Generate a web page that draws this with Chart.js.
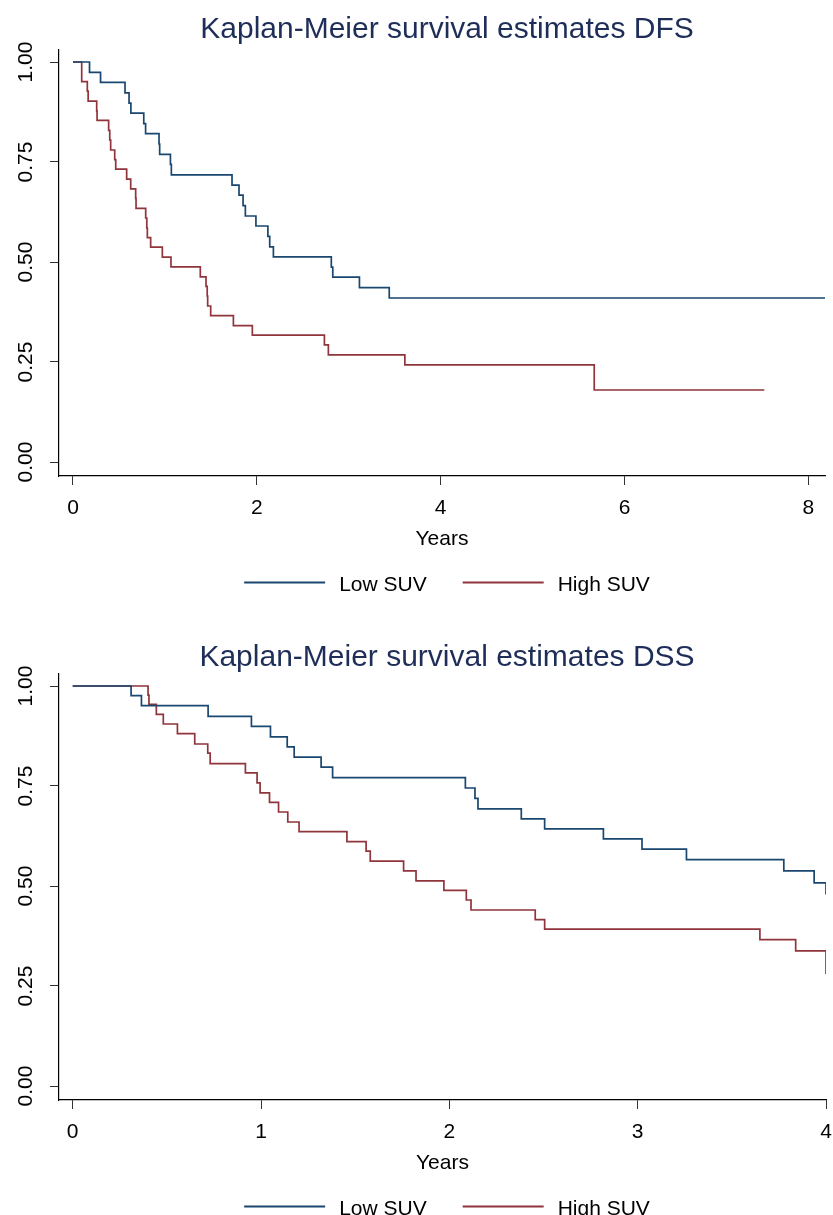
<!DOCTYPE html>
<html>
<head>
<meta charset="utf-8">
<script src="https://cdn.jsdelivr.net/npm/chart.js@4.4.1/dist/chart.umd.min.js"></script>
<style>
  html, body { margin: 0; padding: 0; background: #fff; overflow: hidden; }
  .panel { position: absolute; left: 0; width: 833px; height: 624px; }
</style>
</head>
<body>
<div class="panel" style="top:0"><canvas id="dfs" width="833" height="624"></canvas></div>
<div class="panel" style="top:624px"><canvas id="dss" width="833" height="624"></canvas></div>
<script>
// series labels
const seriesLabels = ['Low SUV', 'High SUV'];

// DFS, low SUV: event times (years) and survival
const dfsLowTime = [0, 0.18, 0.30, 0.566, 0.61, 0.63, 0.77, 0.79, 0.936, 0.943, 1.06, 1.07,
  1.73, 1.806, 1.85, 1.875, 1.99, 2.12, 2.14, 2.18, 2.81, 2.826, 3.116, 3.44, 8.19];
const dfsLowSurv = [1, 0.974, 0.949, 0.923, 0.897, 0.872, 0.846, 0.821, 0.795, 0.769, 0.744, 0.718,
  0.692, 0.667, 0.641, 0.615, 0.590, 0.564, 0.538, 0.513, 0.487, 0.462, 0.436, 0.41, 0.41];

// DFS, high SUV
const dfsHighTime = [0, 0.095, 0.156, 0.165, 0.258, 0.262, 0.388, 0.40, 0.41, 0.454, 0.465, 0.584,
  0.628, 0.682, 0.686, 0.791, 0.803, 0.809, 0.845, 0.972, 1.066, 1.385, 1.447, 1.46, 1.465, 1.498,
  1.745, 1.951, 2.735, 2.778, 3.61, 5.67, 7.52];
const dfsHighSurv = [1, 0.951, 0.927, 0.902, 0.878, 0.854, 0.829, 0.805, 0.780, 0.756, 0.732, 0.707,
  0.683, 0.659, 0.634, 0.610, 0.585, 0.561, 0.537, 0.512, 0.488, 0.463, 0.439, 0.415, 0.390, 0.366,
  0.341, 0.317, 0.293, 0.268, 0.243, 0.18, 0.18];

// DSS, low SUV
const dssLowTime = [0, 0.31, 0.365, 0.719, 0.949, 1.05, 1.139, 1.176, 1.319, 1.38, 2.085, 2.136,
  2.152, 2.382, 2.506, 2.818, 3.023, 3.259, 3.776, 3.937, 4.0];
const dssLowSurv = [1, 0.976, 0.951, 0.924, 0.899, 0.873, 0.848, 0.822, 0.797, 0.771, 0.745, 0.719,
  0.693, 0.668, 0.643, 0.618, 0.592, 0.566, 0.538, 0.508, 0.479];

// DSS, high SUV
const dssHighTime = [0, 0.40, 0.405, 0.444, 0.481, 0.556, 0.648, 0.717, 0.73, 0.917, 0.979, 0.995,
  1.045, 1.093, 1.142, 1.202, 1.456, 1.558, 1.58, 1.757, 1.823, 1.971, 2.09, 2.115, 2.456, 2.506,
  3.649, 3.839, 4.0];
const dssHighSurv = [1, 0.977, 0.954, 0.929, 0.905, 0.881, 0.855, 0.832, 0.806, 0.783, 0.758, 0.733,
  0.709, 0.685, 0.660, 0.636, 0.611, 0.587, 0.562, 0.538, 0.513, 0.489, 0.465, 0.44, 0.416, 0.392,
  0.366, 0.338, 0.28];

// tick labels
const dfsXTicks = [0, 2, 4, 6, 8];
const dssXTicks = [0, 1, 2, 3, 4];
const yTicks = [0, 0.25, 0.5, 0.75, 1];

const FONT = "'Liberation Sans', Arial, Helvetica, sans-serif";
const BLUE = '#1a476f';
const RED = '#90353b';
const TITLE_COLOR = '#1e2e58';

Chart.defaults.font.family = FONT;
Chart.defaults.color = '#000';

function points(times, surv) {
    return times.map((t, i) => ({ x: t, y: surv[i] }));
}

// title, rotated y labels and the line legend, Stata style
const stataText = {
    id: 'stataText',
    afterDraw(chart, args, opts) {
        const ctx = chart.ctx;
        const ys = chart.scales.y;
        ctx.save();

        ctx.fillStyle = TITLE_COLOR;
        ctx.font = '30px ' + FONT;
        ctx.textAlign = 'center';
        ctx.textBaseline = 'alphabetic';
        ctx.fillText(opts.title, opts.centerX, opts.titleBaseline);

        ctx.fillStyle = '#000';
        ctx.font = '21px ' + FONT;
        ys.ticks.forEach(t => {
            const py = ys.getPixelForValue(t.value);
            ctx.save();
            ctx.translate(31.5, py);
            ctx.rotate(-Math.PI / 2);
            ctx.fillText(t.value.toFixed(2), 0, 0);
            ctx.restore();
        });

        // legend
        const lineLen = 81, gapText = 14, gapItem = 36;
        const sets = chart.data.datasets;
        const widths = sets.map(d => ctx.measureText(d.label).width);
        let total = 0;
        widths.forEach((w, i) => { total += lineLen + gapText + w + (i ? gapItem : 0); });
        let x = opts.centerX - total / 2;
        ctx.textAlign = 'left';
        sets.forEach((d, i) => {
            ctx.strokeStyle = d.borderColor;
            ctx.lineWidth = 2;
            ctx.beginPath();
            ctx.moveTo(x, opts.legendY);
            ctx.lineTo(x + lineLen, opts.legendY);
            ctx.stroke();
            x += lineLen + gapText;
            ctx.fillStyle = '#000';
            ctx.fillText(d.label, x, opts.legendY + 8.5);
            x += widths[i] + gapItem;
        });
        ctx.restore();
    }
};

function kmChart(id, title, titleBaseline, low, high, xTicks, xMin, xMax, padRight) {
    const ctx = document.getElementById(id).getContext('2d');
    return new Chart(ctx, {
        type: 'line',
        data: {
            datasets: [
                { label: seriesLabels[0], data: points(low[0], low[1]), borderColor: BLUE },
                { label: seriesLabels[1], data: points(high[0], high[1]), borderColor: RED }
            ]
        },
        options: {
            responsive: false,
            animation: false,
            devicePixelRatio: 1,
            layout: { padding: { left: 50, right: padRight, top: 50, bottom: 61.6 } },
            elements: {
                line: { borderWidth: 1.7, stepped: 'before', tension: 0 },
                point: { radius: 0, hoverRadius: 0 }
            },
            plugins: {
                legend: { display: false },
                title: { display: false },
                tooltip: { enabled: false },
                stataText: { title: title, titleBaseline: titleBaseline, centerX: 447, legendY: 582.5 }
            },
            scales: {
                x: {
                    type: 'linear',
                    min: xMin,
                    max: xMax,
                    afterBuildTicks: s => { s.ticks = xTicks.map(v => ({ value: v })); },
                    afterFit: s => { s.paddingLeft = 0; s.paddingRight = 0; },
                    grid: { drawOnChartArea: false, drawTicks: true, tickLength: 9, tickColor: '#333', tickWidth: 1 },
                    border: { display: true, color: '#000', width: 1.2 },
                    ticks: { font: { size: 21, lineHeight: 1.2 }, padding: 11, color: '#000', maxRotation: 0 },
                    title: { display: true, text: 'Years', font: { size: 21, lineHeight: 1.2 }, color: '#000', padding: { top: -6, bottom: 11 } }
                },
                y: {
                    type: 'linear',
                    min: -0.035,
                    max: 1.03,
                    afterBuildTicks: s => { s.ticks = yTicks.map(v => ({ value: v })); },
                    grid: { drawOnChartArea: false, drawTicks: true, tickLength: 9, tickColor: '#333', tickWidth: 1 },
                    border: { display: true, color: '#000', width: 1.2 },
                    ticks: { display: false }
                }
            }
        },
        plugins: [stataText]
    });
}

kmChart('dfs', 'Kaplan-Meier survival estimates DFS', 37.5,
    [dfsLowTime, dfsLowSurv], [dfsHighTime, dfsHighSurv], dfsXTicks, -0.152, 8.18, 8);
kmChart('dss', 'Kaplan-Meier survival estimates DSS', 41.5,
    [dssLowTime, dssLowSurv], [dssHighTime, dssHighSurv], dssXTicks, -0.0728, 4.0, 7);
</script>
</body>
</html>
